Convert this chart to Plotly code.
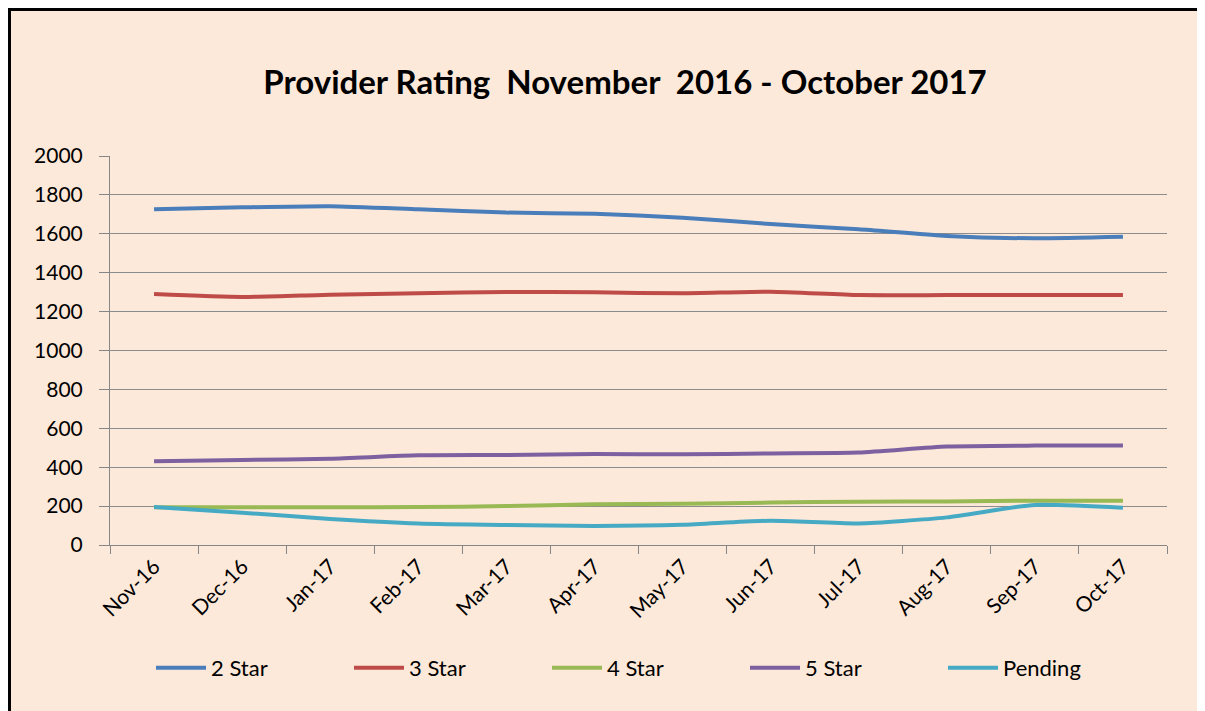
import plotly.graph_objects as go

months = ["Nov-16", "Dec-16", "Jan-17", "Feb-17", "Mar-17", "Apr-17",
          "May-17", "Jun-17", "Jul-17", "Aug-17", "Sep-17", "Oct-17"]
star2 = [1726, 1736, 1742, 1726, 1709, 1703, 1683, 1650, 1623, 1589, 1577, 1585]
star3 = [1290, 1275, 1287, 1294, 1301, 1299, 1294, 1302, 1285, 1285, 1285, 1285]
star4 = [194, 194, 194, 195, 200, 209, 212, 218, 223, 224, 228, 228]
star5 = [430, 437, 444, 461, 463, 468, 466, 471, 475, 506, 511, 511]
pending = [195, 166, 134, 111, 103, 98, 104, 125, 111, 142, 206, 192]

names = ["2 Star", "3 Star", "4 Star", "5 Star", "Pending"]
series = [star2, star3, star4, star5, pending]
colors = ["#4A7EBB", "#BE4B48", "#98B954", "#7D60A0", "#46AAC5"]
yticks = [0, 200, 400, 600, 800, 1000, 1200, 1400, 1600, 1800, 2000]

fig = go.Figure()
for n, s, c in zip(names, series, colors):
    fig.add_trace(go.Scatter(x=months, y=s, name=n, mode="lines",
                             line=dict(color=c, width=4, shape="spline", smoothing=0.6)))

# the page body has an 8px margin; figure coords = page coords - 8
OFF = 8
W, H = 1205 - OFF, 711 - OFF
L, R, T, B = 110 - OFF, 1205 - 1167, 156 - OFF, 711 - 545
pw, ph = W - L - R, H - T - B
def px_x(p):
    return (p - OFF - L) / pw
def px_y(p):
    return (H - B - (p - OFF)) / ph

fig.add_shape(type="rect", xref="paper", yref="paper",
              x0=px_x(9.5), x1=px_x(1200), y0=px_y(740), y1=px_y(9.5),
              fillcolor="#FDE9D9", line=dict(color="black", width=3), layer="below")

fig.update_layout(
    width=W, height=H,
    margin=dict(l=L, r=R, t=T, b=B),
    paper_bgcolor="white",
    plot_bgcolor="white",
    font=dict(family="Lato, Calibri, sans-serif", color="#000000"),
    title=dict(text="<b>Provider Rating&nbsp; November&nbsp; 2016 - October 2017</b>",
               x=px_x(625), xref="paper", xanchor="center",
               y=1 - (82 - OFF) / H, yanchor="middle",
               font=dict(size=33, family="Lato, sans-serif", color="#000000")),
    showlegend=True,
    legend=dict(orientation="h", x=px_x(646), xanchor="center", y=px_y(668), yanchor="middle",
                font=dict(size=22), bgcolor="rgba(0,0,0,0)",
                entrywidth=133, entrywidthmode="pixels", itemwidth=50),
    xaxis=dict(type="category", range=[-0.5, 11.5], showgrid=False,
               showline=True, linecolor="#868686", linewidth=1,
               ticks="outside", tickson="boundaries", ticklen=8, tickcolor="#868686",
               tickangle=-45, tickfont=dict(size=21), zeroline=False),
    yaxis=dict(range=[0, 2000], tickvals=yticks, showgrid=True, gridcolor="#8C8C8C", gridwidth=1,
               showline=True, linecolor="#868686", linewidth=1,
               ticks="outside", ticklen=10, tickcolor="#868686", ticklabelstandoff=12,
               tickfont=dict(size=21), zeroline=False),
)

fig.write_html("out.html")
